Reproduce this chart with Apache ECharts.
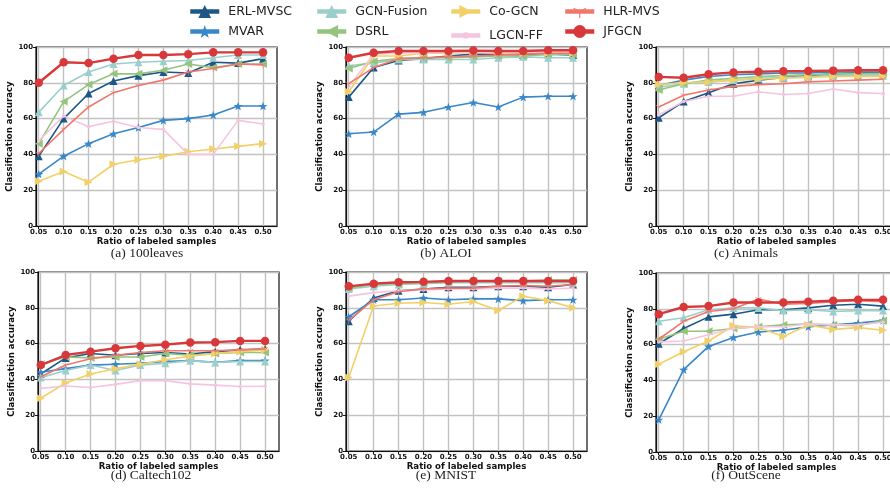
<!DOCTYPE html>
<html>
<head>
<meta charset="utf-8">
<script src="https://cdn.jsdelivr.net/npm/echarts@6.0.0/dist/echarts.min.js"></script>
<style>
html,body{margin:0;padding:0;background:#fff;}
#chart{width:890px;height:495px;}
</style>
</head>
<body>
<div id="chart"></div>
<script>
// ---- data ----
const ratios = [0.05, 0.10, 0.15, 0.20, 0.25, 0.30, 0.35, 0.40, 0.45, 0.50];
const methods = ['ERL-MVSC', 'MVAR', 'GCN-Fusion', 'DSRL', 'Co-GCN', 'LGCN-FF', 'HLR-MVS', 'JFGCN'];
const captions = ['(a) 100leaves', '(b) ALOI', '(c) Animals', '(d) Caltech102', '(e) MNIST', '(f) OutScene'];
const yTicks = [0, 20, 40, 60, 80, 100];

// rows follow the order of `methods`
const acc100leaves = [
  [39, 60, 74, 81, 84, 86, 85.5, 91.5, 91, 93.5],
  [29, 39, 46, 51.5, 55, 59, 60, 62, 67, 67],
  [63.5, 78.5, 86, 90.5, 91.5, 92, 92.5, 94, 95.5, 95.5],
  [46, 69.5, 79, 85, 85, 87, 90.5, 88.5, 90.5, 90.5],
  [25, 30.5, 24.5, 34.5, 37, 39, 41.5, 43, 44.5, 46],
  [47.5, 61.5, 55.5, 58.5, 55, 54, 40, 40, 59, 57],
  [40.5, 54, 66.5, 74.5, 78.5, 81.5, 86, 88, 90.5, 90],
  [80, 91.5, 91, 93.5, 95.5, 95.5, 96, 97, 97, 97]
];
const accALOI = [
  [72, 88.5, 92.5, 93.5, 95, 96, 96, 95.5, 96, 95.5],
  [51.5, 52.5, 62.5, 63.5, 66.5, 69, 66.5, 72, 72.5, 72.5],
  [89.5, 91, 93, 93, 93, 93, 94, 94.5, 94, 94],
  [88, 92, 93.5, 94, 94, 94.5, 95, 95, 96, 96],
  [75, 95, 95, 96.5, 96.5, 97, 96.5, 96.5, 96.5, 96.5],
  [78, 96, 96.5, 97, 97, 97, 97, 97, 97.5, 97.5],
  [79.5, 88.5, 93.5, 94, 94.5, 95, 95.5, 96, 96.5, 96.5],
  [94, 96.8, 97.8, 97.8, 97.8, 98, 97.8, 97.8, 98.2, 98.2]
];
const accAnimals = [
  [60.5, 69.5, 74.5, 79.5, 81.5, 83, 84, 85, 85.5, 85.5],
  [78.5, 81.5, 83.5, 84.5, 85, 85.5, 85.5, 86, 86, 86],
  [77.5, 79.5, 80.5, 81.5, 82.5, 83, 83.5, 84, 84, 84],
  [76, 79.5, 81.5, 82.5, 83.5, 84, 84.5, 85, 85, 85],
  [79, 80, 80.5, 81.5, 82, 82.5, 83, 83.5, 83.5, 83.5],
  [62, 69.5, 72.5, 72.5, 75, 73.5, 74, 76.5, 74.5, 74],
  [66.5, 73, 76, 78, 79, 79.5, 80.5, 81, 81.5, 82],
  [83.3, 82.8, 84.8, 85.8, 86.2, 86.5, 86.6, 86.8, 87, 87]
];
const accCaltech102 = [
  [43, 52, 54.5, 53.5, 54.5, 55, 54.2, 55.5, 56.5, 57],
  [44, 46, 48, 48.5, 49, 50, 50.5, 49.5, 50.5, 50.5],
  [41, 45, 48, 45, 48, 49, 50.5, 49.5, 50, 50],
  [48.5, 52.5, 52, 52.5, 52.5, 54.5, 53.5, 54.5, 55, 55],
  [29.5, 38, 43, 46, 48.5, 51, 53, 54.5, 55.5, 56.5],
  [35, 36.3, 35.5, 37.2, 39.3, 39.3, 37.5, 36.8, 36, 36.2],
  [41.5, 48, 51.5, 53.5, 55, 56, 56, 56, 56.5, 57],
  [48, 53.6, 55.5, 57.4, 58.7, 59.4, 60.6, 60.8, 61.5, 61.5]
];
const accMNIST = [
  [72.5, 85.5, 89.5, 90.5, 91.5, 91.5, 92, 92, 91.5, 93],
  [75, 84.5, 84.5, 85.5, 84.5, 85, 85, 84, 84.5, 84.5],
  [90.5, 92, 93, 93.5, 94, 94, 94, 94, 94, 94],
  [91, 93, 93.5, 94, 94.5, 95, 95, 95, 95.5, 95.5],
  [41, 81, 82.5, 83, 82, 83.5, 78.5, 86.5, 84, 80],
  [86.5, 88.5, 89.5, 90, 90.5, 90.5, 91, 91, 90.5, 91],
  [73, 84.5, 89, 90.5, 91, 91, 92, 92.5, 92, 93],
  [92, 93.5, 94.3, 94.5, 95, 95, 95, 95, 95, 95]
];
const accOutScene = [
  [60.5, 69, 75.5, 77, 79.5, 79.5, 80.5, 82, 82.5, 81.5],
  [18, 46, 59, 64, 67, 68, 70, 71, 72, 73.5],
  [73, 75, 79.5, 80.5, 80.5, 79, 79.5, 78.5, 79, 79],
  [63, 67.5, 67.5, 69, 70, 71, 71.5, 71, 70.5, 73.5],
  [49, 56, 62, 70.5, 69.5, 64.5, 71, 68.5, 69.5, 68],
  [61.5, 62, 65.5, 69, 70, 70, 71.5, 71, 71, 72.5],
  [63, 73, 78.5, 80, 85.5, 82.5, 83, 84, 84.5, 84],
  [77, 81, 81.5, 83.5, 83.5, 83.5, 84, 84.5, 85, 85]
];
const allData = [acc100leaves, accALOI, accAnimals, accCaltech102, accMNIST, accOutScene];

// ---- styles ----
const STAR = 'path://M0,-10 L2.35,-3.24 L9.51,-3.09 L3.8,1.24 L5.88,8.09 L0,4 L-5.88,8.09 L-3.8,1.24 L-9.51,-3.09 L-2.35,-3.24 Z';
const TRI_DOWN = 'path://M-0.8,10 L0.8,10 L0.8,0.5 L9.06,-4.3 L8.26,-5.7 L0,-0.9 L-8.26,-5.7 L-9.06,-4.3 L-0.8,0.5 Z M-0.01,-10 L0.01,-10 L0,-9.99 Z';
const styles = [
  {color: '#1d5787', symbol: 'triangle', size: 8, rotate: 0, lw: 1.6},
  {color: '#3887c8', symbol: STAR, size: 9, rotate: 0, lw: 1.6},
  {color: '#9bcfcb', symbol: 'triangle', size: 8, rotate: 0, lw: 1.6},
  {color: '#95c47d', symbol: 'triangle', size: 8, rotate: 90, lw: 1.6},
  {color: '#f2d068', symbol: 'triangle', size: 8, rotate: -90, lw: 1.6},
  {color: '#f5c5df', symbol: 'circle', size: 3.5, rotate: 0, lw: 1.6},
  {color: '#f0776b', symbol: TRI_DOWN, size: 7, rotate: 0, lw: 1.6},
  {color: '#d8383a', symbol: 'circle', size: 8.5, rotate: 0, lw: 2.4}
];
const grids = [
  {left: 36, top: 47}, {left: 346, top: 47}, {left: 656, top: 47},
  {left: 38, top: 272}, {left: 346, top: 272}, {left: 656, top: 273}
];
const capPos = [[147, 253], [446, 253], [746, 253], [151, 475], [446, 475], [746, 475]];
const legendPos = [[188, 13], [188, 33], [315, 13], [315, 33], [449, 13], [449, 33], [563, 13], [563, 33]];

const tickFont = {fontSize: 7, fontWeight: 'bold', color: '#111', fontFamily: 'DejaVu Sans'};
const titleFont = {fontSize: 8.6, fontWeight: 'bold', color: '#111', fontFamily: 'DejaVu Sans'};
const gridLine = {show: true, lineStyle: {color: '#c2c2c2', width: 1.4}};

const option = {
  animation: false,
  backgroundColor: '#fff',
  grid: grids.map(g => ({
    left: g.left, top: g.top, width: 241, height: 179,
    show: true, borderColor: '#111', borderWidth: 1.2, backgroundColor: 'transparent',
    outerBoundsMode: 'none', containLabel: false
  })),
  xAxis: grids.map((g, i) => ({
    type: 'value', gridIndex: i, min: 0.0445, max: 0.528,
    axisLine: {show: true, onZero: false, lineStyle: {color: '#111', width: 1.2}},
    axisTick: {show: true, customValues: ratios, length: 3, lineStyle: {color: '#111', width: 1}},
    axisLabel: Object.assign({customValues: ratios, margin: 3, formatter: v => v.toFixed(2), showMinLabel: true, showMaxLabel: true}, tickFont),
    splitLine: gridLine,
    name: 'Ratio of labeled samples', nameLocation: 'middle', nameGap: 10,
    nameTextStyle: titleFont
  })),
  yAxis: grids.map((g, i) => ({
    type: 'value', gridIndex: i, min: 0, max: 100, interval: 20,
    axisLine: {show: true, lineStyle: {color: '#111', width: 1.2}},
    axisTick: {show: true, length: 3, lineStyle: {color: '#111', width: 1}},
    axisLabel: Object.assign({margin: 3}, tickFont),
    splitLine: gridLine,
    name: 'Classification accuracy', nameLocation: 'middle', nameGap: 18, nameRotate: 90,
    nameTextStyle: titleFont
  })),
  legend: methods.map((m, k) => {
    const small = (m === 'LGCN-FF');
    const ih = small ? 8 : 16;
    return {
      data: [m], selectedMode: false, padding: 0,
      left: legendPos[k][0], top: legendPos[k][1] - ih / 2,
      itemWidth: 29, itemHeight: ih,
      lineStyle: {width: 4.5},
      textStyle: {fontSize: 12.5, fontFamily: 'DejaVu Sans', color: '#222', padding: [0, 0, 0, 4]}
    };
  }),
  graphic: captions.map((c, i) => ({
    type: 'text', x: capPos[i][0], y: capPos[i][1],
    style: {text: c, font: '13.5px "Liberation Serif"', fill: '#222', align: 'center', verticalAlign: 'middle'}
  })),
  series: []
};

allData.forEach((rows, gi) => {
  rows.forEach((vals, mi) => {
    const s = styles[mi];
    option.series.push({
      type: 'line', name: methods[mi], xAxisIndex: gi, yAxisIndex: gi,
      data: ratios.map((x, j) => [x, vals[j]]),
      symbol: s.symbol, symbolSize: s.size, symbolRotate: s.rotate, symbolKeepAspect: true,
      showSymbol: true, showAllSymbol: true,
      lineStyle: {color: s.color, width: s.lw},
      itemStyle: {color: s.color, borderWidth: 0},
      z: 2 + mi * 0.1, zlevel: 0,
      emphasis: {disabled: true}
    });
  });
});

const chart = echarts.init(document.getElementById('chart'), null, {renderer: 'canvas'});
chart.setOption(option);
</script>
</body>
</html>
